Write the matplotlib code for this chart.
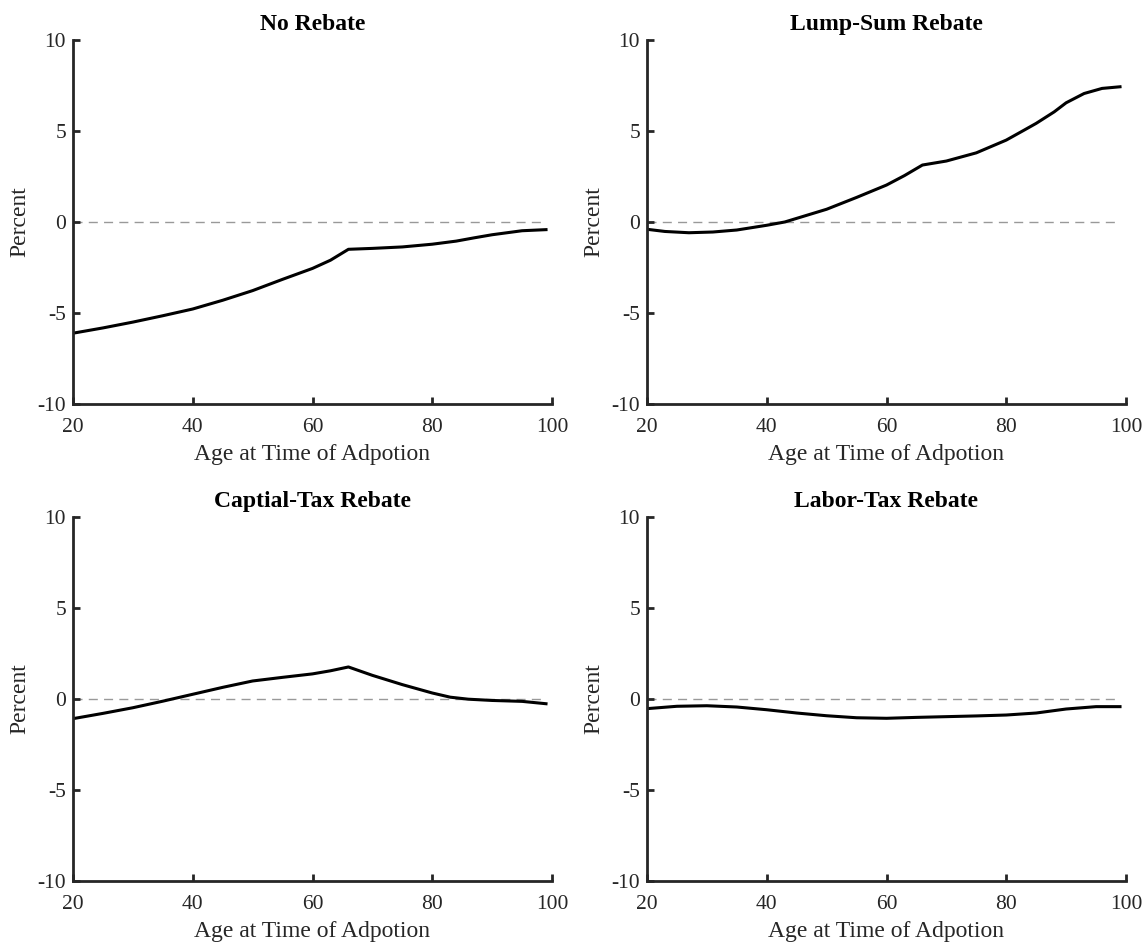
import matplotlib
matplotlib.use('Agg')
import matplotlib.pyplot as plt
from matplotlib import rcParams

rcParams['font.family'] = ['Liberation Serif', 'DejaVu Serif']
rcParams['axes.unicode_minus'] = False

# 面板标题
titles = ['No Rebate', 'Lump-Sum Rebate', 'Captial-Tax Rebate', 'Labor-Tax Rebate']

# 各面板读取的数据点 (年龄, 百分比)
age_no = [20, 25, 30, 35, 40, 45, 50, 55, 60, 63, 66, 70, 75, 80, 84, 87, 90, 95, 99]
val_no = [-6.11, -5.82, -5.5, -5.15, -4.78, -4.3, -3.77, -3.15, -2.55, -2.1, -1.5,
          -1.45, -1.37, -1.22, -1.05, -0.87, -0.7, -0.48, -0.42]

age_lump = [20, 23, 27, 31, 35, 40, 43, 46, 50, 55, 60, 63, 66, 70, 75, 80, 83,
            85, 88, 90, 93, 96, 99]
val_lump = [-0.4, -0.52, -0.59, -0.55, -0.44, -0.18, 0.0, 0.3, 0.7, 1.35, 2.03,
            2.55, 3.13, 3.35, 3.8, 4.5, 5.05, 5.42, 6.05, 6.55, 7.06, 7.34, 7.43]

age_cap = [20, 25, 30, 35, 40, 45, 50, 55, 60, 63, 66, 70, 75, 80, 83, 86, 90, 95, 99]
val_cap = [-1.08, -0.79, -0.48, -0.12, 0.26, 0.64, 0.99, 1.19, 1.38, 1.55, 1.76,
           1.3, 0.79, 0.33, 0.1, -0.01, -0.08, -0.13, -0.26]

age_lab = [20, 25, 30, 35, 40, 45, 50, 55, 60, 65, 70, 75, 80, 85, 90, 95, 99]
val_lab = [-0.53, -0.4, -0.37, -0.44, -0.59, -0.77, -0.92, -1.03, -1.06, -1.01,
           -0.97, -0.93, -0.88, -0.77, -0.55, -0.42, -0.42]

series = [(age_no, val_no), (age_lump, val_lump), (age_cap, val_cap), (age_lab, val_lab)]

x_ticks = [20, 40, 60, 80, 100]
y_ticks = [-10, -5, 0, 5, 10]

fig = plt.figure(figsize=(11.43, 9.42), dpi=100)

W, H = 1143, 942
# 轴位置 (像素)
boxes = [(73, 40), (647, 40), (73, 517), (647, 517)]
aw, ah = 479, 364

axis_color = '#262626'

for (px, py), title, (ages, vals) in zip(boxes, titles, series):
    ax = fig.add_axes([px / W, 1 - (py + ah) / H, aw / W, ah / H])
    ax.plot([20, 99], [0, 0], color='#999999', lw=1.0, dashes=(6.5, 4.5), zorder=1)
    ax.plot(ages, vals, color='black', lw=2.2, zorder=2)

    ax.set_xlim(20, 100)
    ax.set_ylim(-10, 10)
    ax.set_xticks(x_ticks)
    ax.set_yticks(y_ticks)

    for s in ['top', 'right']:
        ax.spines[s].set_visible(False)
    for s in ['left', 'bottom']:
        ax.spines[s].set_linewidth(2.0)
        ax.spines[s].set_color(axis_color)

    ax.tick_params(direction='in', length=5, width=2.0, color=axis_color,
                   labelsize=15.5, labelcolor=axis_color)
    ax.tick_params(axis='x', pad=10)
    ax.tick_params(axis='y', pad=5)

    ax.set_title(title, fontsize=17, fontweight='bold', pad=7)
    ax.set_xlabel('Age at Time of Adpotion', fontsize=17, color=axis_color, labelpad=5)
    ax.set_ylabel('Percent', fontsize=17, color=axis_color, labelpad=5)

plt.savefig('out.png', dpi=100)
